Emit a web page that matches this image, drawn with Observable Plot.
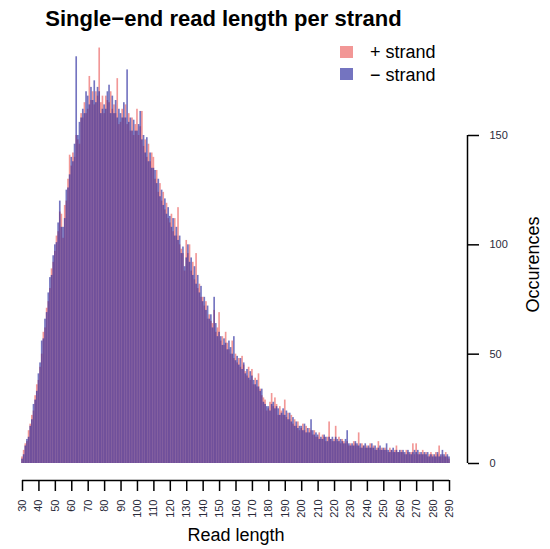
<!DOCTYPE html>
<html>
<head>
<meta charset="utf-8">
<script src="https://cdn.jsdelivr.net/npm/d3@7"></script>
<script src="https://cdn.jsdelivr.net/npm/@observablehq/plot@0.6"></script>
<style>
  html, body { margin: 0; padding: 0; background: #fff; }
  #wrap { position: relative; width: 550px; height: 549px; font-family: "Liberation Sans", Arial, sans-serif; }
  #title { position: absolute; left: 0; top: 8px; width: 447px; text-align: center; font-size: 22px; line-height: 22px; font-weight: bold; color: #000; }
  .key { position: absolute; left: 340px; width: 13px; height: 12px; }
  .keytxt { position: absolute; left: 370px; font-size: 18px; line-height: 18px; color: #000; white-space: nowrap; }
  #chart { position: absolute; left: 0; top: 0; }
</style>
</head>
<body>
<div id="wrap">
  <div id="chart"></div>
  <div id="title">Single−end read length per strand</div>
  <div class="key" id="kPlus" style="top:46px"></div>
  <div class="keytxt" style="top:43px">+ strand</div>
  <div class="key" id="kMinus" style="top:68px"></div>
  <div class="keytxt" style="top:66px">− strand</div>
</div>
<script>
// Read lengths 30..290 (one bar per length)
const lengths = d3.range(30, 291);

// Occurrences of each read length on the + strand
const plusCounts = [
  3, 6, 9, 10, 15, 18, 22, 24, 31, 36,
  38, 44, 50, 60, 62, 71, 74, 80, 89, 92,
  97, 104, 106, 115, 114, 103, 118, 120, 130, 141,
  136, 142, 140, 150, 148, 146, 160, 158, 165, 160,
  162, 177, 166, 170, 164, 170, 168, 190, 165, 168,
  160, 168, 166, 165, 170, 162, 164, 160, 176, 155,
  156, 162, 158, 164, 155, 160, 152, 158, 150, 155,
  162, 150, 154, 161, 145, 148, 140, 146, 138, 142,
  140, 130, 134, 124, 128, 120, 124, 116, 119, 112,
  110, 114, 106, 112, 104, 117, 100, 98, 96, 88,
  102, 96, 100, 88, 92, 84, 96, 80, 82, 76,
  76, 72, 74, 66, 68, 65, 64, 70, 60, 62,
  69, 56, 58, 54, 60, 55, 52, 50, 56, 48,
  50, 46, 48, 44, 49, 45, 42, 40, 44, 38,
  43, 36, 39, 35, 41, 34, 31, 30, 29, 24,
  25, 28, 32, 26, 30, 27, 22, 26, 24, 22,
  29, 21, 23, 20, 22, 18, 20, 17, 19, 15,
  16, 18, 15, 17, 14, 16, 15, 13, 15, 12,
  12, 14, 11, 13, 12, 10, 12, 19, 11, 10,
  11, 17, 10, 12, 9, 11, 10, 9, 10, 8,
  9, 8, 10, 9, 8, 14, 7, 9, 8, 7,
  8, 7, 9, 7, 8, 6, 7, 10, 6, 7,
  6, 7, 6, 5, 7, 6, 5, 6, 8, 5,
  5, 6, 5, 4, 6, 5, 4, 5, 9, 4,
  9, 4, 5, 4, 6, 4, 5, 3, 4, 5,
  4, 3, 5, 4, 8, 3, 4, 3, 5, 3,
  2
];

// Occurrences of each read length on the − strand
const minusCounts = [
  2, 4, 8, 11, 12, 17, 20, 27, 29, 33,
  41, 46, 56, 57, 66, 69, 78, 85, 86, 95,
  100, 101, 110, 120, 108, 108, 112, 125, 126, 132,
  140, 138, 146, 186, 150, 156, 158, 162, 160, 170,
  168, 164, 172, 166, 175, 165, 172, 170, 160, 162,
  164, 162, 170, 173, 160, 168, 160, 166, 158, 162,
  160, 158, 165, 158, 180, 156, 158, 152, 157, 152,
  152, 155, 161, 148, 150, 142, 149, 138, 142, 135,
  135, 134, 128, 130, 122, 125, 118, 121, 114, 117,
  113, 108, 112, 104, 108, 102, 104, 96, 99, 90,
  94, 100, 92, 94, 86, 90, 82, 86, 78, 81,
  74, 76, 70, 72, 66, 68, 62, 76, 64, 58,
  60, 58, 54, 57, 55, 52, 56, 53, 50, 58,
  47, 49, 45, 48, 43, 46, 41, 43, 39, 42,
  40, 38, 36, 38, 35, 33, 34, 28, 27, 26,
  26, 24, 27, 28, 25, 26, 25, 22, 23, 25,
  22, 24, 20, 23, 19, 21, 17, 19, 16, 17,
  17, 15, 18, 14, 16, 14, 20, 15, 13, 14,
  13, 11, 12, 11, 13, 12, 10, 12, 11, 12,
  10, 12, 11, 10, 11, 10, 9, 11, 15, 9,
  8, 9, 8, 10, 9, 8, 9, 7, 8, 9,
  7, 8, 7, 9, 7, 8, 6, 7, 8, 6,
  7, 6, 9, 6, 5, 6, 7, 5, 6, 5,
  6, 5, 6, 5, 4, 6, 5, 4, 5, 6,
  5, 6, 4, 5, 4, 5, 4, 5, 3, 4,
  3, 4, 3, 5, 3, 4, 6, 4, 3, 4,
  3
];

const xTicks = d3.range(30, 291, 10);
const yTicks = [0, 50, 100, 150];

const plusFill = "#e8413f", minusFill = "#2a2a9e";
const plusOpacity = 0.55, minusOpacity = 0.65;

const bars = lengths.map((len, i) => ({len, plus: plusCounts[i], minus: minusCounts[i]}));

document.getElementById("kPlus").style.background = plusFill;
document.getElementById("kPlus").style.opacity = plusOpacity;
document.getElementById("kMinus").style.background = minusFill;
document.getElementById("kMinus").style.opacity = minusOpacity;

const chart = Plot.plot({
  width: 550,
  height: 549,
  marginLeft: 22,
  marginRight: 101,
  marginTop: 135,
  marginBottom: 86,
  style: {fontFamily: "Liberation Sans, Arial, sans-serif", background: "transparent"},
  x: {domain: [30, 290]},
  y: {domain: [0, 150]},
  marks: [
    Plot.rect(bars, {x1: d => d.len - 0.5, x2: d => d.len + 0.5, y1: 0, y2: "plus", fill: plusFill, fillOpacity: plusOpacity}),
    Plot.rect(bars, {x1: d => d.len - 0.5, x2: d => d.len + 0.5, y1: 0, y2: "minus", fill: minusFill, fillOpacity: minusOpacity}),
    // x axis, offset below the bars
    Plot.ruleY([0], {x1: 30, x2: 290, dy: 17, stroke: "#000", strokeWidth: 1.5}),
    Plot.axisX({ticks: xTicks, tickSize: 11, tickPadding: 8, tickRotate: -90, dy: 17, fontSize: 11, fill: "#2a2a3a", label: null, tickFormat: d => String(d), strokeWidth: 1.5}),
    // y axis on the right, offset from the bars
    Plot.ruleX([290], {y1: 0, y2: 150, dx: 18, stroke: "#000", strokeWidth: 1.5}),
    Plot.axisY({anchor: "right", ticks: yTicks, tickSize: 11, tickPadding: 11, dx: 18, fontSize: 11, fill: "#2a2a3a", label: null, strokeWidth: 1.5}),
    Plot.text(["Read length"], {frameAnchor: "bottom", textAnchor: "middle", lineAnchor: "middle", dy: 72, fontSize: 18, fill: "#000"}),
    Plot.text(["Occurences"], {frameAnchor: "right", textAnchor: "middle", lineAnchor: "middle", dx: 84, dy: -35, rotate: -90, fontSize: 18, fill: "#000"})
  ]
});
document.getElementById("chart").appendChild(chart);
</script>
</body>
</html>
